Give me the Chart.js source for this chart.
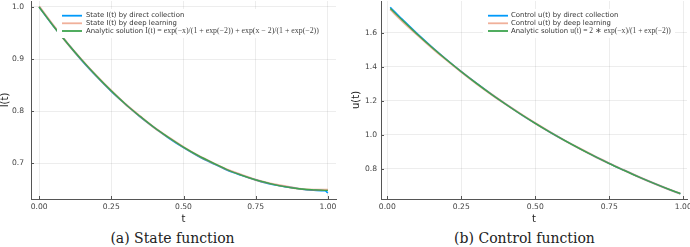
<!DOCTYPE html>
<html>
<head>
<meta charset="utf-8">
<script src="https://cdn.jsdelivr.net/npm/chart.js@4.4.0/dist/chart.umd.min.js"></script>
<style>
  body { margin: 0; background: #fff; width: 690px; height: 247px; overflow: hidden; position: relative; }
  .panel { position: absolute; top: 0; width: 345px; height: 228px; }
  .caption { position: absolute; top: 229px; width: 345px; text-align: center;
             font-family: "DejaVu Serif", serif; font-size: 14px; line-height: 18px; color: #222; }
</style>
</head>
<body>
<div class="panel" style="left:0"><canvas id="chart_state" width="345" height="228"></canvas></div>
<div class="panel" style="left:345px"><canvas id="chart_control" width="345" height="228"></canvas></div>
<div class="caption" style="left:0">(a) State function</div>
<div class="caption" style="left:352px">(b) Control function</div>
<script>
// state I(t)
const tState = [0, 0.05, 0.1, 0.15, 0.2, 0.25, 0.3, 0.35, 0.4, 0.45, 0.5, 0.55, 0.6, 0.65, 0.7, 0.75, 0.8, 0.85, 0.9, 0.95, 0.99, 1.0];
const iDirect = [1.000, 0.963, 0.929, 0.896, 0.866, 0.838, 0.813, 0.789, 0.768, 0.748, 0.730, 0.714, 0.700, 0.687, 0.677, 0.668, 0.660, 0.655, 0.651, 0.648, 0.647, 0.643];
const iDeep = [1.001, 0.964, 0.929, 0.897, 0.867, 0.839, 0.813, 0.790, 0.768, 0.749, 0.731, 0.715, 0.701, 0.688, 0.678, 0.668, 0.661, 0.656, 0.651, 0.649, 0.649, 0.649];
const iExact = [1.000, 0.963, 0.929, 0.897, 0.867, 0.839, 0.813, 0.790, 0.768, 0.749, 0.731, 0.715, 0.701, 0.688, 0.677, 0.668, 0.661, 0.655, 0.651, 0.649, 0.648, 0.648];

// control u(t)
const tControl = [0.01, 0.05, 0.1, 0.15, 0.2, 0.25, 0.3, 0.35, 0.4, 0.45, 0.5, 0.55, 0.6, 0.65, 0.7, 0.75, 0.8, 0.85, 0.9, 0.95, 0.99];
const uDirect = [1.751, 1.681, 1.598, 1.519, 1.444, 1.373, 1.306, 1.242, 1.181, 1.123, 1.068, 1.016, 0.967, 0.920, 0.875, 0.832, 0.792, 0.753, 0.716, 0.681, 0.655];
const uDeep = [1.739, 1.671, 1.591, 1.514, 1.441, 1.371, 1.304, 1.241, 1.181, 1.124, 1.069, 1.017, 0.967, 0.920, 0.875, 0.833, 0.792, 0.753, 0.716, 0.681, 0.655];
const uExact = [1.744, 1.676, 1.594, 1.516, 1.442, 1.372, 1.305, 1.241, 1.181, 1.123, 1.068, 1.016, 0.967, 0.920, 0.875, 0.832, 0.792, 0.753, 0.716, 0.681, 0.655];

const xTicks = [0, 0.25, 0.5, 0.75, 1.0];
const stateTicks = [0.7, 0.8, 0.9, 1.0];
const controlTicks = [0.8, 1.0, 1.2, 1.4, 1.6];

const stateLabels = ["State I(t) by direct collection", "State I(t) by deep learning", "Analytic solution"];
const controlLabels = ["Control u(t) by direct collection", "Control u(t) by deep learning", "Analytic solution"];
const stateFormula = "I(t) = exp(\u2212x)/(1 + exp(\u22122)) + exp(x \u2212 2)/(1 + exp(\u22122))";
const controlFormula = "u(t) = 2 \u2217 exp(\u2212x)/(1 + exp(\u22122))";

const SANS = '"DejaVu Sans", sans-serif';

const pts = (xs, ys) => xs.map((x, i) => ({ x: x, y: ys[i] }));

// legend drawn inside the plot on a white box, like the GR backend does
const insetLegend = {
  id: "insetLegend",
  afterDatasetsDraw(chart, args, o) {
    const ctx = chart.ctx;
    const a = chart.chartArea;
    ctx.save();
    // small inward ticks
    ctx.strokeStyle = "#555";
    ctx.lineWidth = 1;
    const sx = chart.scales.x, sy = chart.scales.y;
    sx.ticks.forEach(t => {
      const px = Math.round(sx.getPixelForValue(t.value)) + 0.5;
      ctx.beginPath(); ctx.moveTo(px, a.bottom); ctx.lineTo(px, a.bottom - 3); ctx.stroke();
    });
    sy.ticks.forEach(t => {
      const py = Math.round(sy.getPixelForValue(t.value)) + 0.5;
      ctx.beginPath(); ctx.moveTo(a.left, py); ctx.lineTo(a.left + 3, py); ctx.stroke();
    });

    ctx.fillStyle = "#fff";
    ctx.fillRect(o.box[0], o.box[1], o.box[2], o.box[3]);
    ctx.textBaseline = "middle";
    chart.data.datasets.forEach((ds, i) => {
      const y = o.rowY[i];
      ctx.strokeStyle = ds.borderColor;
      ctx.lineWidth = 1.8;
      ctx.beginPath(); ctx.moveTo(o.lineX[0], y); ctx.lineTo(o.lineX[1], y); ctx.stroke();
      ctx.font = "6.9px " + SANS;
      ctx.fillStyle = "#333";
      ctx.fillText(ds.label, o.textX, y);
      if (i === 2) {
        const x0 = o.textX + ctx.measureText(ds.label + " ").width;
        ctx.font = "10px \"Liberation Serif\", serif";
        const w10 = ctx.measureText(o.formula).width;
        const size = 10 * (o.formulaEnd - x0) / w10;
        ctx.font = size.toFixed(2) + "px \"Liberation Serif\", serif";
        ctx.fillStyle = "#444";
        ctx.fillText(o.formula, x0, y + 0.3);
      }
    });
    ctx.restore();
  }
};

function makeChart(id, s) {
  return new Chart(document.getElementById(id), {
    type: "line",
    data: {
      datasets: [
        { label: s.labels[0], data: pts(s.t, s.direct), borderColor: "#009afa", borderWidth: 1.6, order: 2 },
        { label: s.labels[1], data: pts(s.t, s.deep), borderColor: "rgba(227,111,71,0.55)", borderWidth: 2.2, order: 1 },
        { label: s.labels[2], data: pts(s.t, s.exact), borderColor: "#3ea44e", borderWidth: 1.3, order: 0 },
      ],
    },
    options: {
      responsive: false,
      animation: false,
      elements: { point: { radius: 0 }, line: { cubicInterpolationMode: "monotone" } },
      layout: { padding: { left: 0, right: s.rightPad, top: 1, bottom: 0 } },
      plugins: {
        legend: { display: false },
        tooltip: { enabled: false },
        insetLegend: s.legend,
      },
      scales: {
        x: {
          type: "linear",
          min: s.xRange[0],
          max: s.xRange[1],
          afterBuildTicks: sc => { sc.ticks = xTicks.map(v => ({ value: v })); },
          ticks: { callback: v => v.toFixed(2), font: { family: SANS, size: 7.6 }, color: "#444", padding: 3, maxRotation: 0, autoSkip: false },
          grid: { color: "rgba(0,0,0,0.07)", drawTicks: false },
          border: { display: true, color: "#555", width: 1 },
          title: { display: true, text: "t", font: { family: SANS, size: 10 }, color: "#222", padding: { top: 0, bottom: 3 } },
          afterFit: sc => { sc.height = 29; sc.paddingLeft = 0; sc.paddingRight = 0; },
        },
        y: {
          min: s.yRange[0],
          max: s.yRange[1],
          afterBuildTicks: sc => { sc.ticks = s.yTicks.map(v => ({ value: v })); },
          ticks: { callback: v => v.toFixed(1), font: { family: SANS, size: 7.6 }, color: "#444", padding: s.yPad },
          grid: { color: "rgba(0,0,0,0.07)", drawTicks: false },
          border: { display: true, color: "#555", width: 1 },
          title: { display: true, text: s.yTitle, font: { family: SANS, size: 10 }, color: "#222", padding: { top: s.yTitlePad, bottom: 0 } },
          afterFit: sc => { sc.width = s.yWidth; sc.paddingTop = 0; sc.paddingBottom = 0; },
        },
      },
    },
    plugins: [insetLegend],
  });
}

makeChart("chart_state", {
  t: tState, direct: iDirect, deep: iDeep, exact: iExact,
  labels: stateLabels,
  xRange: [-0.028, 1.028], yRange: [0.6313, 1.0115], yTicks: stateTicks,
  yTitle: "I(t)", yWidth: 31, yPad: 7, yTitlePad: -1, rightPad: 9,
  legend: { box: [57, 9, 267, 29], rowY: [15.7, 23.3, 31], lineX: [62, 82], textX: 86, formula: stateFormula, formulaEnd: 319 },
});

makeChart("chart_control", {
  t: tControl, direct: uDirect, deep: uDeep, exact: uExact,
  labels: controlLabels,
  xRange: [-0.0213, 1.0125], yRange: [0.6235, 1.788], yTicks: controlTicks,
  yTitle: "u(t)", yWidth: 36, yPad: 4, yTitlePad: 5, rightPad: 3,
  legend: { box: [138, 9, 192, 29], rowY: [15.7, 23.3, 31], lineX: [143, 163], textX: 166, formula: controlFormula, formulaEnd: 325 },
});
</script>
</body>
</html>
